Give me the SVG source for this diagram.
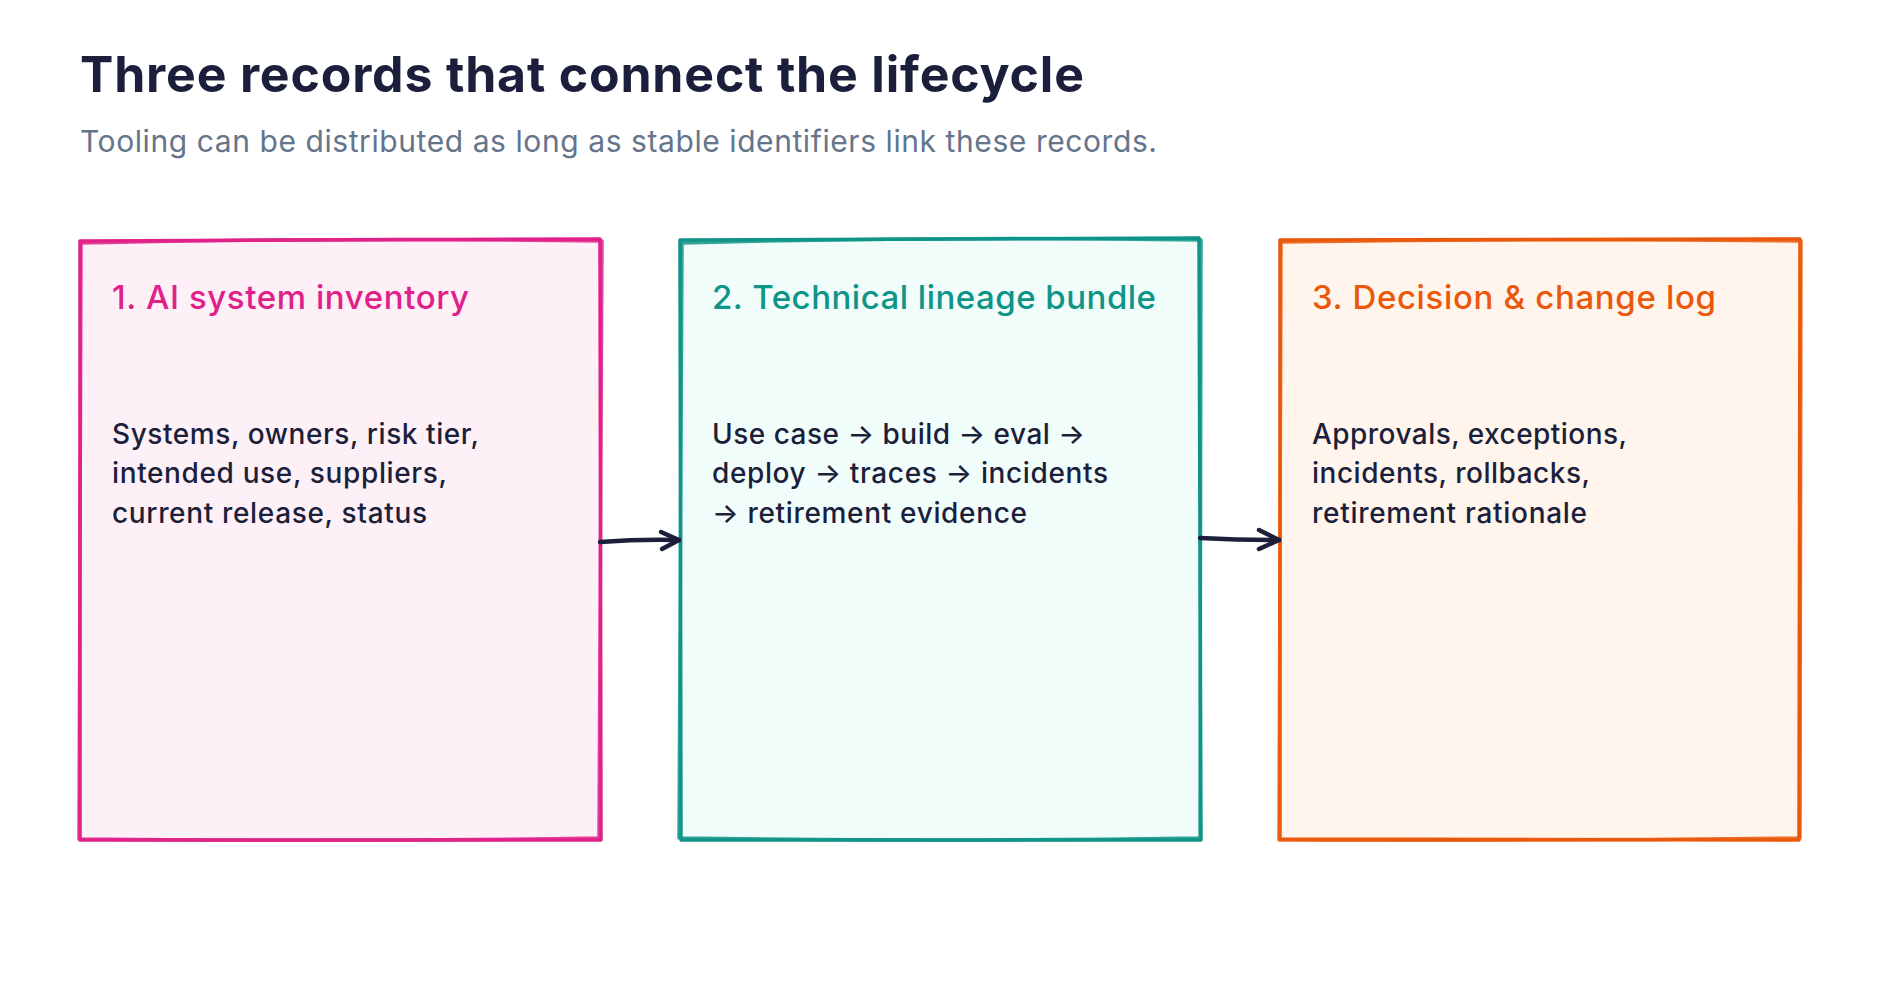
<svg xmlns="http://www.w3.org/2000/svg" width="1880" height="1000" viewBox="0 0 1880 1000">
<defs>
<style>
text{font-family:Inter,"Noto Sans","Liberation Sans",sans-serif}
.title{font-size:50px;font-weight:700;fill:#1c1f3b}
.sub{font-size:30px;font-weight:400;fill:#64748b}
.head{font-size:33px;font-weight:500}
.body{font-size:28px;font-weight:500;fill:#1c1f3b}
.edge{fill:none;stroke:#1c1f3b;stroke-width:4.5;stroke-linecap:round;stroke-linejoin:round}
.sk{fill:none;stroke-width:3.5;stroke-linecap:round;stroke-linejoin:round}
</style>
</defs>
<rect width="1880" height="1000" fill="#ffffff"/>
<text class="title" x="80" y="92" textLength="1004" lengthAdjust="spacing">Three records that connect the lifecycle</text>
<text class="sub" x="80" y="152" textLength="1077" lengthAdjust="spacing">Tooling can be distributed as long as stable identifiers link these records.</text>

<g id="node-inventory">
<rect x="80" y="240" width="520" height="600" fill="#fdf0f6"/>
<path class="sk" stroke="#e0218a" d="M80 241 L600 239 L601 840 L80 840 Z"/>
<path class="sk" stroke="#e0218a" stroke-opacity="0.85" d="M81 243 Q340 237 602 241 L599 838 Q340 842 79 839 L81 243"/>
<text class="head" x="112" y="309" fill="#e0218a" textLength="357" lengthAdjust="spacing">1. AI system inventory</text>
<text class="body" x="112" y="444" textLength="367" lengthAdjust="spacing">Systems, owners, risk tier,</text>
<text class="body" x="112" y="483" textLength="335" lengthAdjust="spacing">intended use, suppliers,</text>
<text class="body" x="112" y="523" textLength="315" lengthAdjust="spacing">current release, status</text>
</g>

<g id="node-lineage">
<rect x="680" y="240" width="520" height="600" fill="#f0fdfa"/>
<path class="sk" stroke="#0f9488" d="M680 240 L1199 238 L1201 840 L681 840 Z"/>
<path class="sk" stroke="#0f9488" stroke-opacity="0.85" d="M682 243 Q940 236 1201 240 L1200 838 Q940 842 679 838 L682 243"/>
<text class="head" x="712" y="309" fill="#0f9488" textLength="444" lengthAdjust="spacing">2. Technical lineage bundle</text>
<text class="body" x="712" y="444" textLength="373" lengthAdjust="spacing">Use case → build → eval →</text>
<text class="body" x="712" y="483" textLength="396" lengthAdjust="spacing">deploy → traces → incidents</text>
<text class="body" x="712" y="523" textLength="315" lengthAdjust="spacing">→ retirement evidence</text>
</g>

<g id="node-decision">
<rect x="1280" y="240" width="520" height="600" fill="#fff5ec"/>
<path class="sk" stroke="#ea580c" d="M1280 240 L1800 239 L1799 840 L1280 839 Z"/>
<path class="sk" stroke="#ea580c" stroke-opacity="0.85" d="M1281 242 Q1540 238 1801 241 L1800 838 Q1540 841 1279 840 L1281 242"/>
<text class="head" x="1312" y="309" fill="#ea580c" textLength="404" lengthAdjust="spacing">3. Decision &amp; change log</text>
<text class="body" x="1312" y="444" textLength="315" lengthAdjust="spacing">Approvals, exceptions,</text>
<text class="body" x="1312" y="483" textLength="278" lengthAdjust="spacing">incidents, rollbacks,</text>
<text class="body" x="1312" y="523" textLength="275" lengthAdjust="spacing">retirement rationale</text>
</g>

<g id="connectors">
<path class="edge" d="M600 542 Q640 539 679 540"/>
<path class="edge" d="M661 532 L679 540 L662 549"/>
<path class="edge" d="M1200 538 Q1240 540 1279 540"/>
<path class="edge" d="M1259 530 L1279 540 L1259 549"/>
</g>
</svg>
